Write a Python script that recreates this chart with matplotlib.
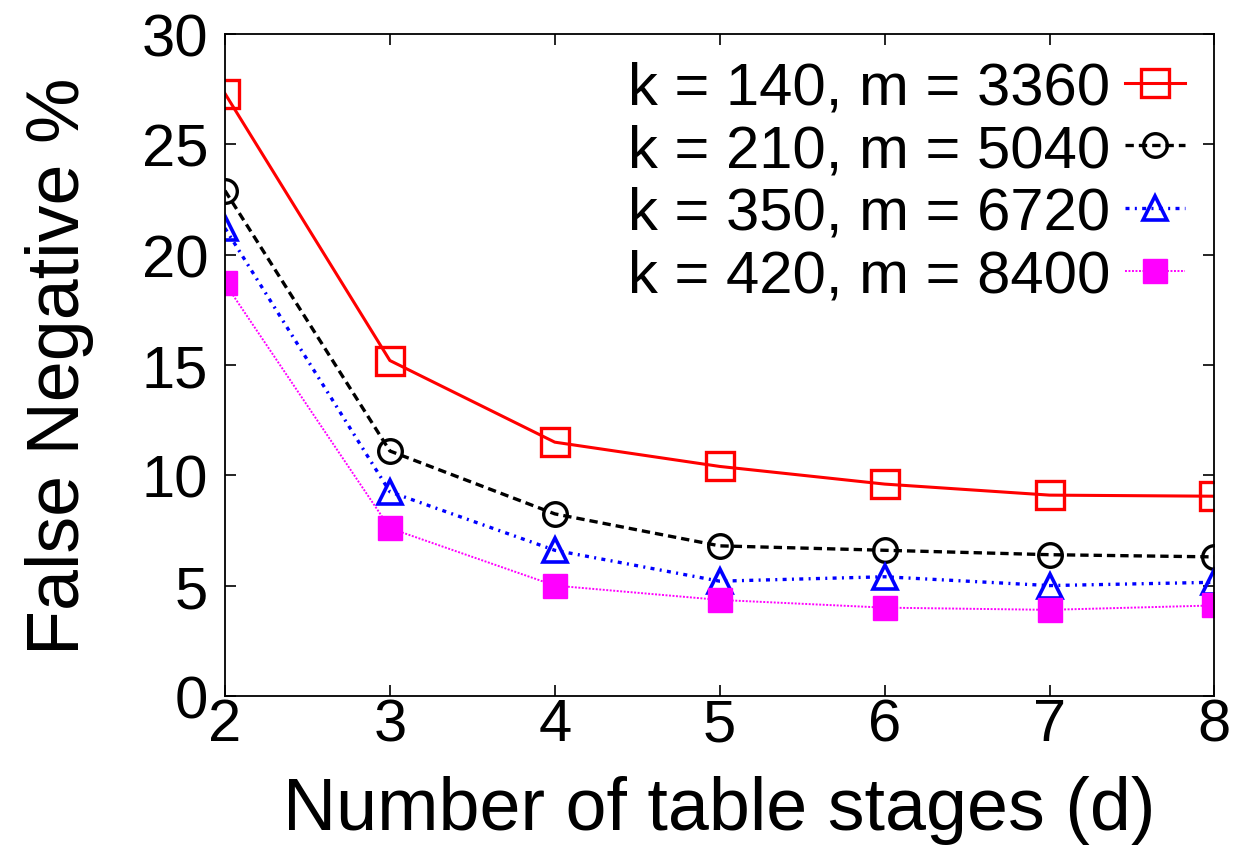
import matplotlib.pyplot as plt

plt.rcParams['font.family'] = ['Liberation Sans', 'DejaVu Sans']

stages = [2, 3, 4, 5, 6, 7, 8]
labels = ['k = 140, m = 3360', 'k = 210, m = 5040',
          'k = 350, m = 6720', 'k = 420, m = 8400']
fn_140 = [27.3, 15.2, 11.5, 10.4, 9.6, 9.1, 9.05]
fn_210 = [22.9, 11.1, 8.25, 6.8, 6.6, 6.4, 6.3]
fn_350 = [21.2, 9.25, 6.6, 5.2, 5.4, 5.0, 5.15]
fn_420 = [18.7, 7.6, 5.0, 4.35, 4.0, 3.9, 4.1]

fig = plt.figure(figsize=(12.43, 8.53), dpi=100)
ax = fig.add_axes([0.181, 0.183, 0.796, 0.776])

ax.plot(stages, fn_140, color='red', ls='-', lw=2.2, marker='s', ms=20,
        mfc='none', mec='red', mew=2.4, label=labels[0])
ax.plot(stages, fn_210, color='black', ls=(0, (2.5, 1.5)), lw=2.4, marker='o', ms=17,
        mfc='none', mec='black', mew=2.4, label=labels[1])
ax.plot(stages, fn_350, color='blue', ls=(0, (1.2, 1.6, 0.6, 1.6)), lw=2.4, marker='^', ms=17,
        mfc='none', mec='blue', mew=2.6, label=labels[2])
ax.plot(stages, fn_420, color='magenta', ls=(0, (1, 0.8)), lw=1.4, marker='s', ms=17,
        mfc='magenta', mec='magenta', label=labels[3])

ax.set_xlim(2, 8)
ax.set_ylim(0, 30)
ax.set_xticks(stages)
ax.set_yticks(range(0, 31, 5))
ax.tick_params(direction='in', top=True, right=True, labelsize=43, length=8, width=1.2)
ax.tick_params(axis='x', pad=1)
ax.tick_params(axis='y', pad=12)
for s in ax.spines.values():
    s.set_linewidth(1.3)

ax.set_xlabel('Number of table stages (d)', fontsize=53, labelpad=16)
ax.set_ylabel('False Negative %', fontsize=53, labelpad=34)

ax.legend(loc='upper right', frameon=False, fontsize=43, markerfirst=False,
          handlelength=1.0, handletextpad=0.25, labelspacing=0.13,
          borderpad=0, borderaxespad=0, bbox_to_anchor=(0.97, 0.96))

fig.savefig('out.png', dpi=100)
